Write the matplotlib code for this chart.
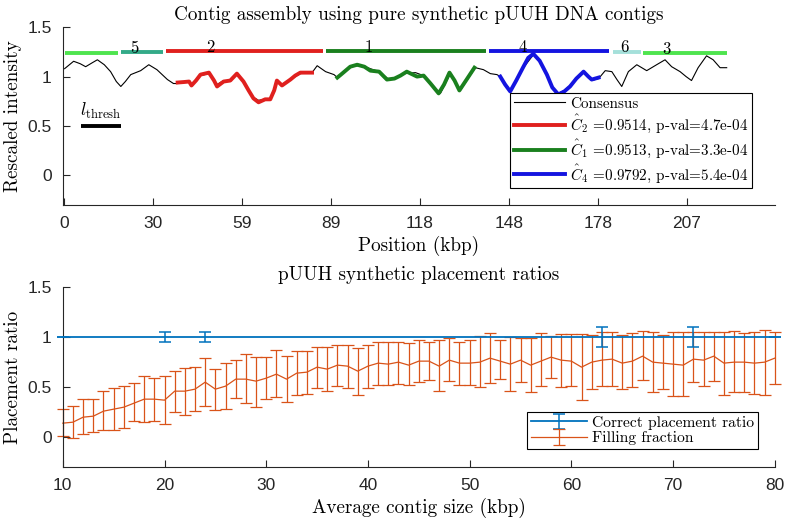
import matplotlib
matplotlib.use("Agg")
import matplotlib.pyplot as plt

plt.rcParams["font.family"] = ["Liberation Sans", "DejaVu Sans"]
plt.rcParams["mathtext.fontset"] = "cm"
plt.rcParams["axes.unicode_minus"] = False

SERIF = "cmr10"

# ---- top panel: consensus barcode and placed contigs ----
consensus_x = [0.3, 3.3, 5.5, 7.3, 9.5, 11.2, 13.5, 15.6, 17.5, 19, 20.5, 22.3, 25.6, 28.3,
               31, 34.5, 36.5, 38, 41.7, 42.5, 45.5, 48.3, 51, 53.2, 55.4, 57.6, 59.8, 63.1,
               64.8, 67, 68.7, 70.9, 72.6, 75.4, 78.7, 82.6, 84.3, 87.1, 89.9, 91, 92.2, 95.3,
               97.6, 101, 104.9, 108.2, 110, 113.1, 117, 119.7, 122, 125.3, 128.6, 131.9,
               134.5, 136.9, 139.6, 141.9, 144.1, 145.2, 148.5, 150.5, 152.9, 156.2, 158.5,
               160.7, 162.5, 164.5, 166.5, 168.4, 170.5, 172.9, 175.6, 177.9, 180.1, 182.3,
               184, 185.6, 187.8, 190.6, 193.9, 197.2, 200, 202.2, 205, 207, 208.8, 211,
               213.8, 216, 218.3, 220.5]
consensus_y = [1.08, 1.155, 1.13, 1.10, 1.14, 1.17, 1.12, 1.05, 0.95, 0.90, 0.95, 1.02, 1.06,
               1.12, 1.07, 0.97, 0.93, 0.93, 0.95, 0.92, 1.01, 1.03, 0.92, 0.96, 0.96, 1.02,
               0.95, 0.79, 0.76, 0.77, 0.78, 0.94, 0.92, 0.97, 1.03, 1.04, 1.11, 1.05, 1.02,
               0.99, 1.02, 1.10, 1.11, 1.09, 1.05, 0.97, 0.98, 1.03, 1.04, 1.01, 0.92, 0.83,
               1.03, 0.86, 0.98, 1.09, 1.07, 1.03, 1.02, 1.0, 0.86, 0.95, 1.09, 1.22, 1.15,
               1.02, 0.89, 0.83, 0.86, 0.91, 0.98, 1.04, 0.96, 0.98, 1.06, 1.05, 0.97, 0.90,
               1.05, 1.12, 1.06, 1.12, 1.17, 1.10, 1.05, 1.00, 0.96, 1.09, 1.21, 1.17, 1.09,
               1.09]

c2_x = [37.9, 40, 41.7, 42.5, 44, 45.5, 48.3, 50, 51, 53.2, 55.4, 57.6, 59.8, 61.5, 63.1,
        64.8, 67, 68.7, 70, 70.9, 72.6, 75.4, 77, 78.7, 82.6]
c2_y = [0.94, 0.945, 0.95, 0.91, 0.96, 1.02, 1.04, 0.96, 0.90, 0.95, 0.96, 1.03, 0.95, 0.86,
        0.78, 0.74, 0.77, 0.77, 0.86, 0.96, 0.91, 0.97, 1.01, 1.04, 1.04]
c1_x = [91, 92.2, 95.3, 97.6, 100, 102, 104.9, 107.5, 110, 112, 114.1, 117.5, 119.7, 122,
        124.7, 126.5, 128.3, 130, 131.6, 134, 136.6]
c1_y = [0.99, 1.02, 1.10, 1.12, 1.10, 1.06, 1.05, 0.97, 0.98, 1.01, 1.05, 1.0, 1.01, 0.93,
        0.83, 0.92, 1.04, 0.96, 0.86, 0.97, 1.09]
c4_x = [145.2, 146.8, 148.5, 150.5, 152.9, 154.5, 156.2, 158.3, 160.7, 162.5, 164.5, 166.5,
        168.4, 170.5, 172.9, 174.5, 175.6, 177.9]
c4_y = [1.0, 0.92, 0.85, 0.96, 1.10, 1.19, 1.23, 1.16, 1.02, 0.89, 0.82, 0.85, 0.90, 0.98,
        1.05, 1.00, 0.97, 0.99]

# contig placement bars (start, end, label)
bar_labels = ["", "5", "2", "1", "4", "6", "3"]
bar_start = [0.3, 19.0, 34.1, 87.4, 141.3, 182.6, 192.8]
bar_end = [18.0, 33.0, 86.1, 140.5, 181.4, 191.9, 220.5]
bar_level = [1.235, 1.245, 1.255, 1.255, 1.255, 1.25, 1.235]
bar_colors = ["#4ee44e", "#33aa88", "#e0201e", "#1a801e", "#1414e0", "#a5e0da", "#4ee44e"]
label_x = [None, 23.6, 48.6, 101.3, 152.6, 186.5, 200.5]

pos_ticks = [0, 29.6, 59.2, 88.8, 118.4, 148.0, 177.6, 207.2]
pos_labels = ["0", "30", "59", "89", "118", "148", "178", "207"]

legend_top = ["Consensus",
              r"$\hat{C}_2$ =0.9514, p-val=4.7e-04",
              r"$\hat{C}_1$ =0.9513, p-val=3.3e-04",
              r"$\hat{C}_4$ =0.9792, p-val=5.4e-04"]

# ---- bottom panel: placement ratios ----
correct_x = [10, 20, 24, 63, 72, 80]
correct_y = [1, 1, 1, 1, 1, 1]
correct_err = [0, 0.05, 0.05, 0.1, 0.1, 0]

fill_x = list(range(10, 81))
fill_mean = [0.14, 0.15, 0.20, 0.21, 0.26, 0.28, 0.30, 0.34, 0.38, 0.38, 0.37, 0.46, 0.46,
             0.48, 0.55, 0.48, 0.51, 0.58, 0.58, 0.56, 0.59, 0.63, 0.58, 0.64, 0.65, 0.70,
             0.68, 0.72, 0.71, 0.66, 0.71, 0.74, 0.73, 0.75, 0.72, 0.76, 0.76, 0.71, 0.77,
             0.74, 0.74, 0.75, 0.79, 0.76, 0.73, 0.77, 0.72, 0.76, 0.80, 0.77, 0.76, 0.70,
             0.75, 0.77, 0.78, 0.74, 0.76, 0.81, 0.75, 0.74, 0.73, 0.72, 0.78, 0.77, 0.81,
             0.74, 0.75, 0.75, 0.74, 0.75, 0.79]
fill_low = [0.01, -0.01, 0.03, 0.05, 0.07, 0.07, 0.09, 0.16, 0.15, 0.16, 0.13, 0.25, 0.22,
            0.26, 0.31, 0.27, 0.28, 0.39, 0.34, 0.30, 0.38, 0.40, 0.35, 0.42, 0.43, 0.49,
            0.46, 0.51, 0.49, 0.42, 0.49, 0.52, 0.52, 0.53, 0.52, 0.55, 0.57, 0.46, 0.56,
            0.52, 0.52, 0.50, 0.54, 0.58, 0.46, 0.55, 0.45, 0.51, 0.59, 0.50, 0.51, 0.37,
            0.48, 0.51, 0.51, 0.48, 0.50, 0.57, 0.45, 0.48, 0.41, 0.41, 0.55, 0.51, 0.56,
            0.42, 0.45, 0.45, 0.43, 0.42, 0.53]
fill_high = [0.28, 0.31, 0.38, 0.38, 0.46, 0.49, 0.51, 0.54, 0.61, 0.59, 0.61, 0.66, 0.69,
             0.70, 0.79, 0.68, 0.74, 0.77, 0.83, 0.80, 0.80, 0.87, 0.81, 0.86, 0.86, 0.90,
             0.90, 0.92, 0.92, 0.89, 0.92, 0.95, 0.95, 0.95, 0.94, 0.97, 0.95, 0.97, 0.99,
             0.95, 0.97, 1.01, 1.04, 0.97, 1.0, 0.99, 0.99, 1.04, 1.01, 1.03, 1.03, 1.03,
             1.02, 1.05, 1.05, 1.02, 1.04, 1.06, 1.05, 1.02, 1.05, 1.05, 1.05, 1.05, 1.05,
             1.05, 1.06, 1.04, 1.05, 1.07, 1.05]

BLUE = "#0072BD"
ORANGE = "#D95319"
LABEL_SIZE = 13.8


def style_axes(ax):
    ax.spines["top"].set_visible(False)
    ax.spines["right"].set_visible(False)
    for s in ("left", "bottom"):
        ax.spines[s].set_color("#262626")
        ax.spines[s].set_linewidth(0.8)
    ax.tick_params(direction="in", length=5, width=0.8, colors="#262626",
                   labelsize=12.5, pad=8)


fig = plt.figure(figsize=(7.85, 5.22), dpi=100)
ax1 = fig.add_axes([0.080, 0.607, 0.907, 0.341])
ax2 = fig.add_axes([0.080, 0.105, 0.907, 0.345])

# top panel
ax1.plot(consensus_x, consensus_y, color="k", lw=0.8, label=legend_top[0])
ax1.plot(c2_x, c2_y, color=bar_colors[2], lw=2.8, label=legend_top[1])
ax1.plot(c1_x, c1_y, color=bar_colors[3], lw=2.8, label=legend_top[2])
ax1.plot(c4_x, c4_y, color=bar_colors[4], lw=2.8, label=legend_top[3])

for i in range(len(bar_start)):
    ax1.plot([bar_start[i], bar_end[i]], [bar_level[i], bar_level[i]],
             color=bar_colors[i], lw=2.8, solid_capstyle="butt")
    if bar_labels[i]:
        ax1.text(label_x[i], bar_level[i] - 0.005, bar_labels[i], ha="center", va="baseline",
                 fontsize=12, fontfamily=SERIF)

ax1.plot([5.6, 19.0], [0.503, 0.503], color="k", lw=2.8, solid_capstyle="butt")
ax1.text(5.4, 0.55, r"$l_{\mathrm{thresh}}$", fontsize=13, ha="left", va="bottom")

ax1.set_xlim(-0.3, 236.5)
ax1.set_ylim(-0.3, 1.5)
ax1.set_xticks(pos_ticks)
ax1.set_xticklabels(pos_labels)
ax1.set_yticks([0, 0.5, 1, 1.5])
ax1.set_yticklabels(["0", "0.5", "1", "1.5"])
style_axes(ax1)
ax1.set_title("Contig assembly using pure synthetic pUUH DNA contigs",
              fontfamily=SERIF, fontsize=LABEL_SIZE, pad=5)
ax1.set_xlabel("Position (kbp)", fontfamily=SERIF, fontsize=LABEL_SIZE, labelpad=3)
ax1.set_ylabel("Rescaled intensity", fontfamily=SERIF, fontsize=LABEL_SIZE, labelpad=4)
leg1 = ax1.legend(loc="lower right", bbox_to_anchor=(0.968, 0.094), borderaxespad=0,
                  fancybox=False, framealpha=1, edgecolor="k", handlelength=3.4,
                  prop={"family": SERIF, "size": 10.9}, labelspacing=0.15,
                  borderpad=0.25, handletextpad=0.3)
leg1.get_frame().set_linewidth(0.8)

# bottom panel
ax2.errorbar(correct_x, correct_y, yerr=correct_err, color=BLUE, lw=1.3, capsize=4,
             elinewidth=1.1, capthick=1.1, clip_on=False, zorder=3,
             label="Correct placement ratio")
low_err = [m - l for m, l in zip(fill_mean, fill_low)]
high_err = [h - m for m, h in zip(fill_mean, fill_high)]
ax2.errorbar(fill_x, fill_mean, yerr=[low_err, high_err], color=ORANGE, lw=0.9,
             capsize=4, elinewidth=0.9, capthick=0.9, clip_on=False, zorder=2,
             label="Filling fraction")

ax2.set_xlim(10, 80)
ax2.set_ylim(-0.3, 1.5)
ax2.set_xticks([10, 20, 30, 40, 50, 60, 70, 80])
ax2.set_yticks([0, 0.5, 1, 1.5])
ax2.set_yticklabels(["0", "0.5", "1", "1.5"])
style_axes(ax2)
ax2.set_title("pUUH synthetic placement ratios", fontfamily=SERIF, fontsize=LABEL_SIZE, pad=5)
ax2.set_xlabel("Average contig size (kbp)", fontfamily=SERIF, fontsize=LABEL_SIZE, labelpad=3)
ax2.set_ylabel("Placement ratio", fontfamily=SERIF, fontsize=LABEL_SIZE, labelpad=4)
leg2 = ax2.legend(loc="lower right", bbox_to_anchor=(0.976, 0.1), borderaxespad=0,
                  fancybox=False, framealpha=1, edgecolor="k", handlelength=3.6,
                  prop={"family": SERIF, "size": 11.2}, labelspacing=0.1,
                  borderpad=0.25, handletextpad=0.3)
leg2.get_frame().set_linewidth(0.8)

fig.savefig("out.png", dpi=100)
